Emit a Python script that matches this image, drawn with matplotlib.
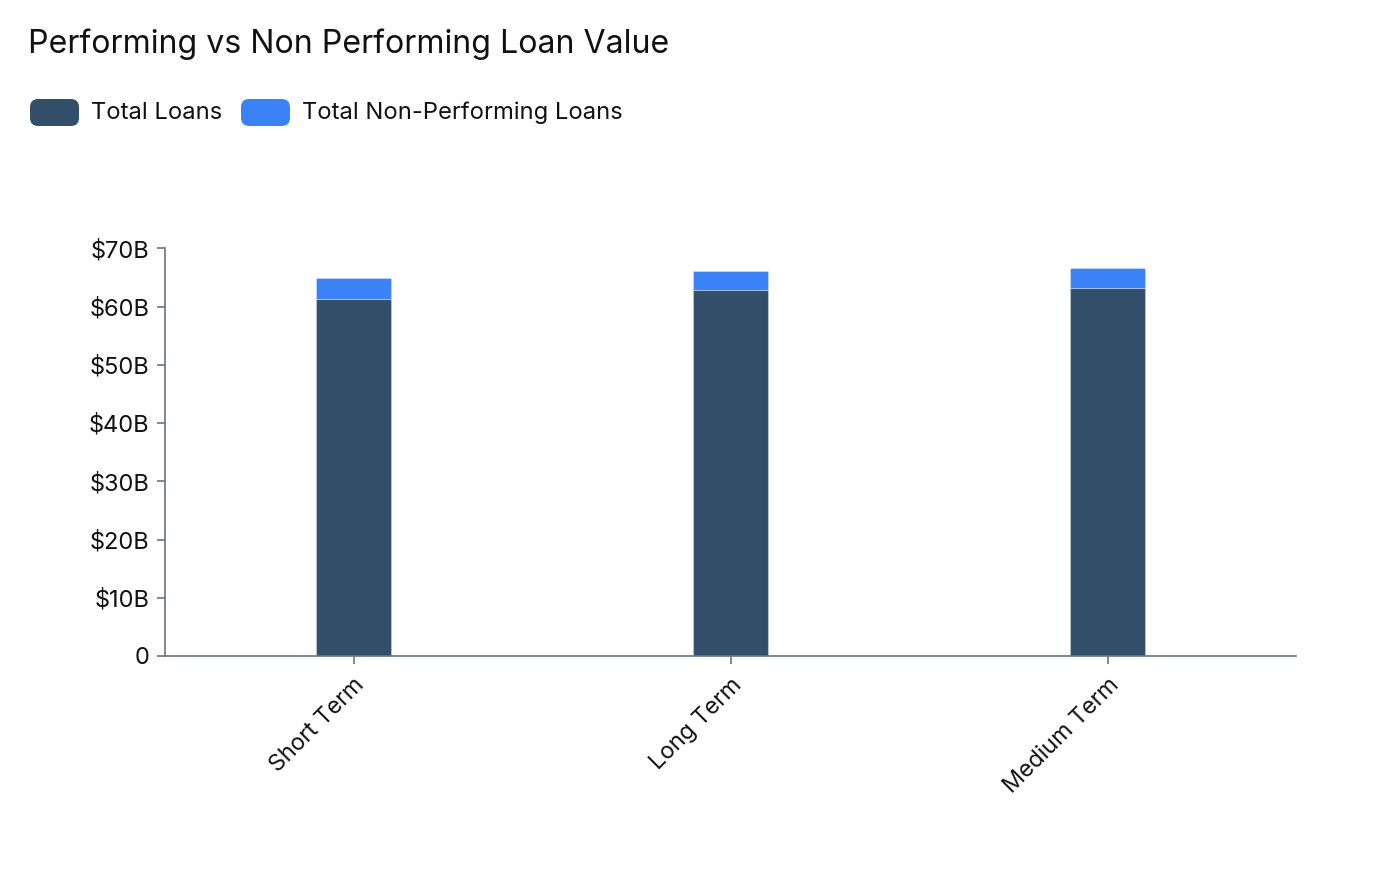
import matplotlib
matplotlib.use("Agg")
import matplotlib.pyplot as plt
from matplotlib.patches import FancyBboxPatch
from matplotlib.ticker import FuncFormatter

categories = ["Short Term", "Long Term", "Medium Term"]
total_loans = [61.4, 62.9, 63.2]          # $B
non_performing = [3.45, 3.3, 3.4]          # $B
series_names = ["Total Loans", "Total Non-Performing Loans"]
y_ticks = [0, 10, 20, 30, 40, 50, 60, 70]

dark = "#334E68"
blue = "#3B82F6"
axis_col = "#6B7280"

plt.rcParams['font.family'] = ['Inter', 'DejaVu Sans']

W, H = 1380, 884
fig = plt.figure(figsize=(W/100, H/100), dpi=100)
ax = fig.add_axes([165/W, (H-656)/H, (1296-165)/W, (656-248.5)/H])

x = list(range(len(categories)))
bw = 0.2
ax.bar(x, total_loans, width=bw, color=dark, edgecolor=(1, 1, 1, 0.3), linewidth=0.8, zorder=2)
ax.bar(x, non_performing, width=bw, bottom=total_loans, color=blue, edgecolor=(1, 1, 1, 0.3), linewidth=0.8, zorder=2)

ax.set_xlim(-0.5, 2.5)
ax.set_ylim(0, 70)
ax.set_yticks(y_ticks)
ax.yaxis.set_major_formatter(FuncFormatter(lambda v, p: "0" if v == 0 else f"${int(v)}B"))
ax.set_xticks(x)
ax.set_xticklabels(categories, rotation=45, ha='right', va='top', rotation_mode='anchor')

for s in ['top', 'right']:
    ax.spines[s].set_visible(False)
for s in ['left', 'bottom']:
    ax.spines[s].set_color(axis_col)
    ax.spines[s].set_linewidth(1.2)
ax.tick_params(axis='both', colors=axis_col, length=6, width=1.2, labelcolor='#111111')
ax.tick_params(axis='y', pad=5, labelsize=17)
ax.tick_params(axis='x', pad=7, labelsize=16.8)

fig.text(28/W, 1 - 44/H, "Performing vs Non Performing Loan Value", fontsize=23.1,
         color='#111111', ha='left', va='center')

# legend
items = [(30, series_names[0], dark), (241, series_names[1], blue)]
for lx, name, col in items:
    p = FancyBboxPatch((lx/W, 1 - 126/H), 49/W, 27/H,
                       boxstyle="round,pad=0,rounding_size=0.006",
                       transform=fig.transFigure, facecolor=col, edgecolor='none',
                       mutation_aspect=W/H)
    fig.patches.append(p)
    fig.text((lx + 61)/W, 1 - 113/H, name, fontsize=17.1, color='#111111', ha='left', va='center')

fig.savefig("out.png", dpi=100, facecolor='white')
